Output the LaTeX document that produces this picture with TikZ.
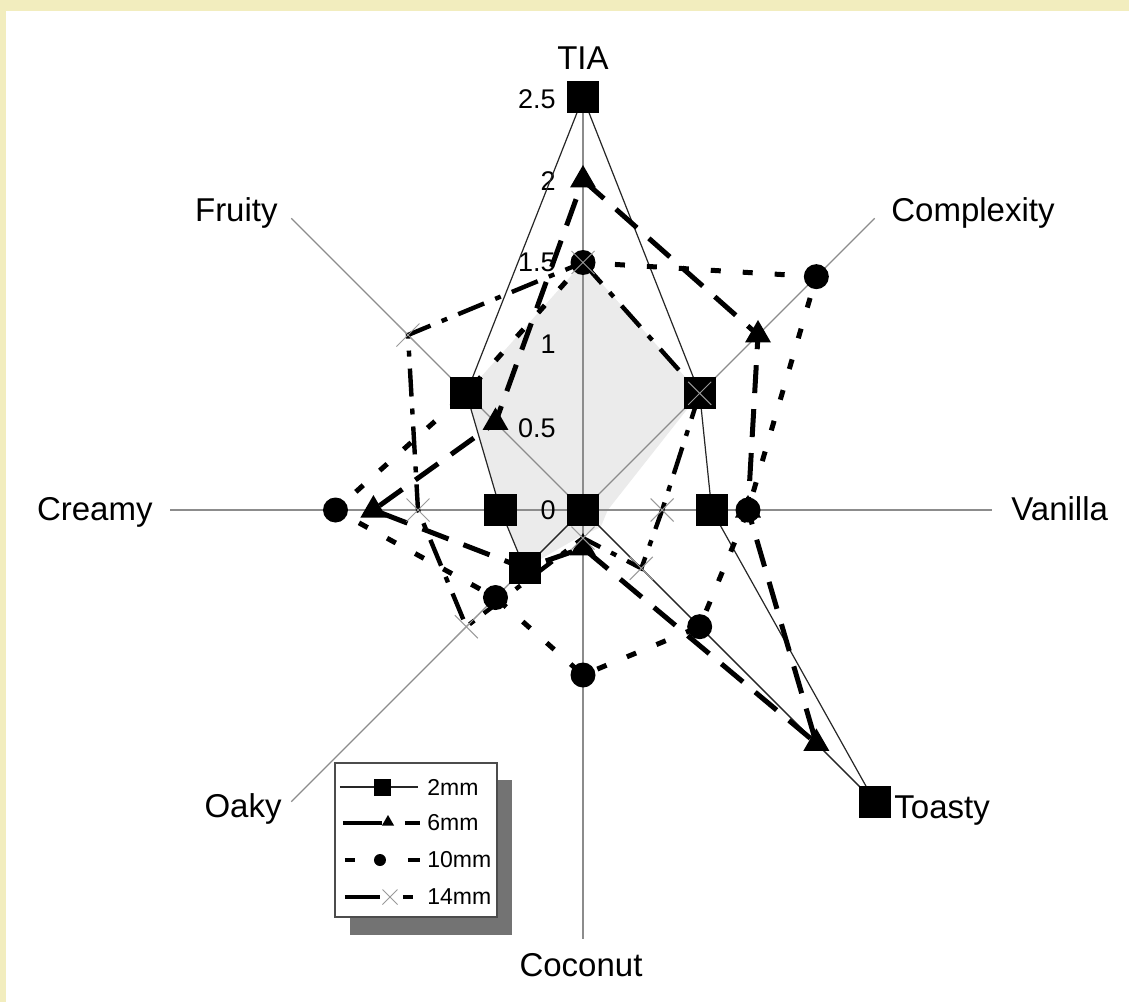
\documentclass[tikz,border=0pt]{standalone}
\usepackage{fontspec}
\setmainfont{Liberation Sans}
\usetikzlibrary{shapes.geometric,shapes.misc}
\definecolor{paper}{RGB}{242,237,190}
\begin{document}
\begin{tikzpicture}[x=0.5pt,y=0.5pt,
  axisline/.style={draw=black!45,line width=0.7pt},
  axislabel/.style={font=\fontsize{16.5}{18}\selectfont,inner sep=0pt},
  ticklabel/.style={font=\fontsize{13.5}{15}\selectfont,anchor=east,inner sep=0pt},
  keylabel/.style={font=\fontsize{11.5}{13}\selectfont,anchor=west,inner sep=0pt},
  ser2/.style={draw=black!85,line width=0.6pt},
  ser6/.style={draw=black,line width=2.5pt,dash pattern=on 14pt off 8pt},
  ser10/.style={draw=black,line width=2.5pt,dash pattern=on 5pt off 11pt},
  ser14/.style={draw=black,line width=2.2pt,dash pattern=on 14pt off 6pt on 3pt off 6pt},
  msq/.style={rectangle,fill=black,minimum size=16pt,inner sep=0pt},
  mtri/.style={regular polygon,regular polygon sides=3,fill=black,minimum size=15pt,inner sep=0pt},
  mdot/.style={circle,fill=black,minimum size=12.5pt,inner sep=0pt},
  mcross/.style={cross out,draw=black!40,line width=0.5pt,minimum size=11pt,inner sep=0pt},
]
\useasboundingbox (-583,-492) rectangle (546,510);
% paper and page
\fill[paper] (-583,-492) rectangle (546,510);
\fill[white] (-577,-492) rectangle (546,499);

% centre of the chart
\coordinate (c) at (0,0);

% shaded region
\foreach \a/\v [count=\i] in {90/1.5,45/1.0,0/0.15,-45/0.15,-90/0.15,-135/0.5,180/0.5,135/1.0}
  \coordinate (h\i) at (\a:{165*\v});
\fill[black!8] (h1)--(h2)--(h3)--(h4)--(h5)--(h6)--(h7)--(h8)--cycle;

% axes
\foreach \a/\l [count=\i] in {90/2.5,45/2.5,0/2.48,-45/2.5,-90/2.6,-135/2.5,180/2.5,135/2.5}{
  \coordinate (e\i) at (\a:{165*\l});
  \draw[axisline] (c) -- (e\i);
}

% axis labels
\node[axislabel] (lTIA) at (0,452) {TIA};
\node[axislabel,anchor=mid west] (lCom) at (308,294) {Complexity};
\node[axislabel,anchor=mid west] (lVan) at (428,-5) {Vanilla};
\node[axislabel,anchor=mid west] (lToa) at (311,-303) {Toasty};
\node[axislabel] (lCoc) at (-2,-455) {Coconut};
\node[axislabel,anchor=mid east] (lOak) at (-301,-302) {Oaky};
\node[axislabel,anchor=mid east] (lCre) at (-430,-5) {Creamy};
\node[axislabel,anchor=mid east] (lFru) at (-305,294) {Fruity};

% scale values
\node[ticklabel] (t0) at (-27,0) {0};
\node[ticklabel] (t1) at (-27,82) {0.5};
\node[ticklabel] (t2) at (-27,166) {1};
\node[ticklabel] (t3) at (-27,248) {1.5};
\node[ticklabel] (t4) at (-27,329) {2};
\node[ticklabel] (t5) at (-27,411) {2.5};

% data points: 2mm (p), 6mm (q), 10mm (r), 14mm (s)
\foreach \a/\v [count=\i] in {90/2.5,45/1.0,0/0.78,-45/2.5,-90/0,-135/0.5,180/0.5,135/1.0}
  \coordinate (p\i) at (\a:{165*\v});
\foreach \a/\v [count=\i] in {90/2.0,45/1.5,0/1.0,-45/2.0,-90/0.23,-135/0.5,180/1.27,135/0.75}
  \coordinate (q\i) at (\a:{165*\v});
\foreach \a/\v [count=\i] in {90/1.5,45/2.0,0/1.0,-45/1.0,-90/1.0,-135/0.75,180/1.5,135/1.0}
  \coordinate (r\i) at (\a:{165*\v});
\foreach \a/\v [count=\i] in {90/1.5,45/1.0,0/0.48,-45/0.5,-90/0.17,-135/1.0,180/1.0,135/1.5}
  \coordinate (s\i) at (\a:{165*\v});

% series lines
\draw[ser2] (p1)--(p2)--(p3)--(p4)--(p5)--(p6)--(p7)--(p8)--cycle;
\draw[ser6] (q1)--(q2)--(q3)--(q4)--(q5)--(q6)--(q7)--(q8)--cycle;
\draw[ser10] (r1)--(r2)--(r3)--(r4)--(r5)--(r6)--(r7)--(r8)--cycle;
\draw[ser14] (s1)--(s2)--(s3)--(s4)--(s5)--(s6)--(s7)--(s8)--cycle;

% markers
\foreach \i in {1,...,8} \node[mtri] (qm\i) at (q\i) {};
\foreach \i in {1,...,8} \node[mdot] (rm\i) at (r\i) {};
\foreach \i in {1,...,8} \node[msq] (pm\i) at (p\i) {};
\foreach \i in {1,...,8} \node[mcross] (sm\i) at (s\i) {};

% key
\fill[black!55] (-233,-270) rectangle (-71,-425);
\draw[black!70,fill=white,line width=0.6pt] (-248,-253) rectangle (-86,-407);
\draw[ser2] (-243,-277) -- (-165,-277);
\node[msq,minimum size=8.5pt] (k1) at (-200,-277) {};
\node[keylabel] (kt1) at (-156,-277) {2mm};
\draw[black,line width=2.3pt] (-240,-313) -- (-201,-313);
\node[mtri,minimum size=7pt] (k2) at (-195,-312) {};
\draw[black,line width=2.3pt] (-178,-313) -- (-163,-313);
\node[keylabel] (kt2) at (-156,-313) {6mm};
\draw[black,line width=2.3pt] (-238,-350) -- (-228,-350);
\node[mdot,minimum size=6pt] (k3) at (-203,-350) {};
\draw[black,line width=2.3pt] (-175,-350) -- (-163,-350);
\node[keylabel] (kt3) at (-156,-350) {10mm};
\draw[black,line width=2pt] (-238,-387) -- (-203,-387);
\node[mcross,minimum size=7pt] (k4) at (-193,-387) {};
\draw[black,line width=2pt] (-180,-387) -- (-170,-387);
\node[keylabel] (kt4) at (-156,-387) {14mm};
\end{tikzpicture}
\end{document}
